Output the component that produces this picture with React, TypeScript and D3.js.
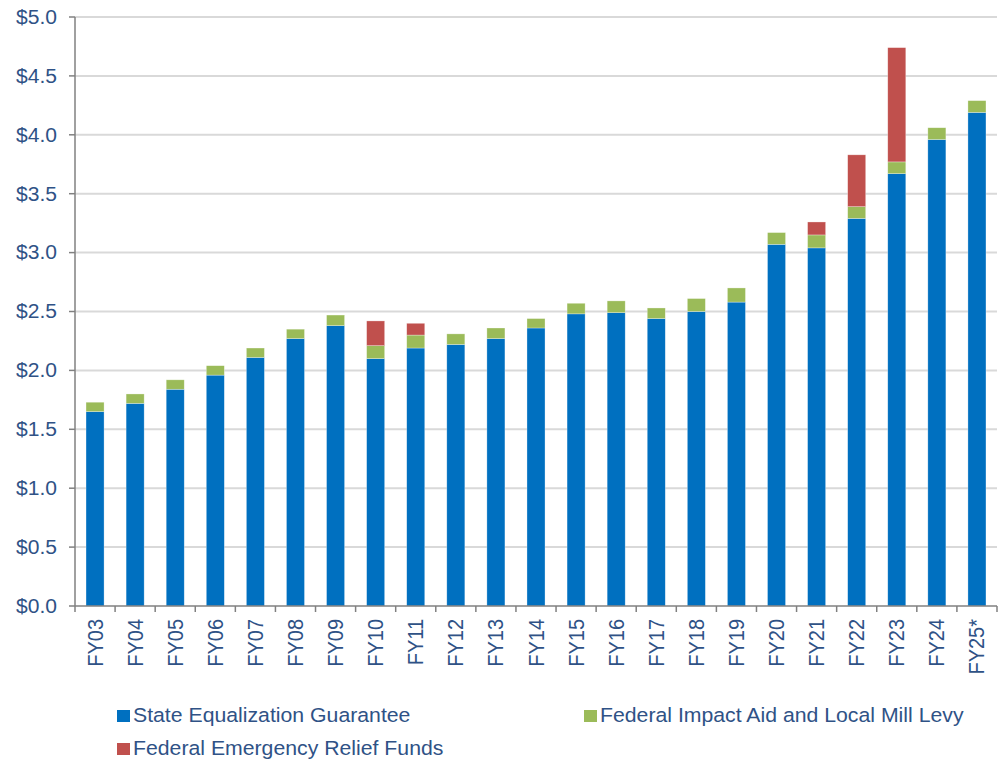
import React from "react";
import * as d3 from "d3";

const categories = ["FY03","FY04","FY05","FY06","FY07","FY08","FY09","FY10","FY11","FY12","FY13","FY14","FY15","FY16","FY17","FY18","FY19","FY20","FY21","FY22","FY23","FY24","FY25*"];
const stateEqualization = [1.65,1.72,1.84,1.96,2.11,2.27,2.38,2.10,2.19,2.22,2.27,2.36,2.48,2.49,2.44,2.50,2.58,3.07,3.04,3.29,3.67,3.96,4.19];
const federalImpactLocal = [0.08,0.08,0.08,0.08,0.08,0.08,0.09,0.11,0.11,0.09,0.09,0.08,0.09,0.10,0.09,0.11,0.12,0.10,0.11,0.10,0.10,0.10,0.10];
const federalEmergency = [0,0,0,0,0,0,0,0.21,0.10,0,0,0,0,0,0,0,0,0,0.11,0.44,0.97,0,0];
const yTicks = [0,0.5,1,1.5,2,2.5,3,3.5,4,4.5,5];
const seriesNames = ["State Equalization Guarantee","Federal Impact Aid and Local Mill Levy","Federal Emergency Relief Funds"];
const colors = ["#0070C0","#9BBB59","#C0504D"];

export default function App() {
  const W = 1004, H = 759;
  const left = 75, right = 997, top = 17, bottom = 606;
  const x = d3.scaleBand<string>().domain(categories).range([left, right]).paddingInner(0.55).paddingOuter(0.275);
  const y = d3.scaleLinear().domain([0, 5]).range([bottom, top]);
  const rows = categories.map((c, i) => ({ c, a: stateEqualization[i], b: federalImpactLocal[i], r: federalEmergency[i] }));
  const stack = d3.stack<any>().keys(["a", "b", "r"])(rows);
  const textColor = "#2F5286";
  const font = "Liberation Sans, Arial, sans-serif";
  const step = (right - left) / categories.length;
  return (
    <svg width={W} height={H} style={{ position: "absolute", left: 0, top: 0, background: "#fff" }} fontFamily={font}>
      {yTicks.map(t => (
        <g key={t}>
          {t > 0 && <line x1={left} x2={right} y1={y(t)} y2={y(t)} stroke="#D9D9D9" strokeWidth={2} />}
          <line x1={69} x2={left} y1={y(t)} y2={y(t)} stroke="#808080" strokeWidth={1.5} />
          <text transform={`translate(57,${y(t)}) scale(1.08,1)`} dy="0.35em" textAnchor="end" fontSize={19.5} fill={textColor}>{"$" + d3.format(".1f")(t)}</text>
        </g>
      ))}
      {stack.map((s, si) => (
        <g key={si} fill={colors[si]}>
          {s.map((d, i) => d[1] - d[0] > 0 ? (
            <rect key={i} x={x(categories[i])} width={x.bandwidth()} y={y(d[1])} height={y(d[0]) - y(d[1])} stroke="#ffffff" strokeOpacity={0.5} strokeWidth={0.6} />
          ) : null)}
        </g>
      ))}
      <line x1={left} x2={left} y1={top} y2={bottom} stroke="#808080" strokeWidth={1.5} />
      <line x1={left} x2={right} y1={bottom} y2={bottom} stroke="#808080" strokeWidth={1.5} />
      {d3.range(categories.length + 1).map(i => (
        <line key={i} x1={left + i * step} x2={left + i * step} y1={bottom} y2={bottom + 6} stroke="#808080" strokeWidth={1.5} />
      ))}
      {categories.map(c => {
        const cx = (x(c) as number) + x.bandwidth() / 2;
        return (
          <text key={c} transform={`translate(${cx + 7.5},619) rotate(-90) scale(1,1.08)`} textAnchor="end" fontSize={20} fill={textColor}>{c}</text>
        );
      })}
      {[[0, 117, 710], [1, 584, 710], [2, 117, 743]].map(([i, lx, ly]) => (
        <g key={i}>
          <rect x={lx} y={ly} width={13} height={12} fill={colors[i]} />
          <text transform={`translate(${lx + 16},${ly + 12}) scale(1.09,1)`} fontSize={19.5} fill={textColor}>{seriesNames[i]}</text>
        </g>
      ))}
    </svg>
  );
}
